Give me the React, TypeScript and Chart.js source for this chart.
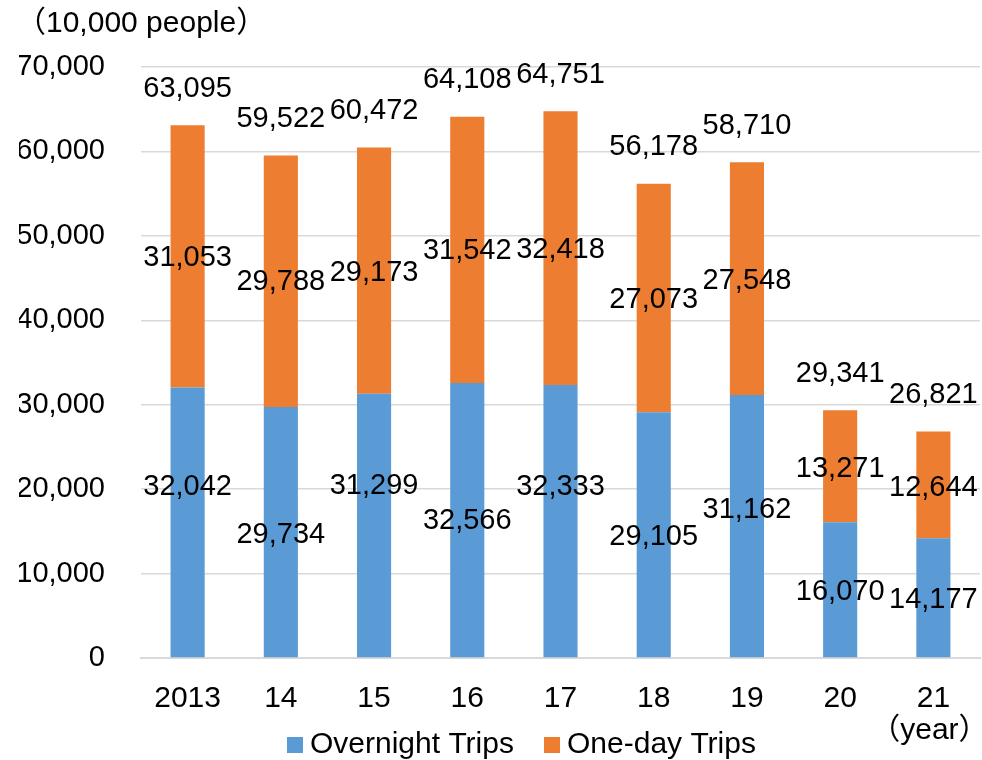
import React, { useEffect, useRef } from "react";
import { Chart, registerables } from "chart.js";

Chart.register(...registerables);

// ---- data ----
const years = ["2013", "14", "15", "16", "17", "18", "19", "20", "21"];
const overnightTrips = [32042, 29734, 31299, 32566, 32333, 29105, 31162, 16070, 14177];
const oneDayTrips = [31053, 29788, 29173, 31542, 32418, 27073, 27548, 13271, 12644];
const totalTrips = [63095, 59522, 60472, 64108, 64751, 56178, 58710, 29341, 26821];
const yMin = 0;
const yMax = 70000;
const yStep = 10000;
const seriesNames = ["Overnight Trips", "One-day Trips"];
const unitLabel = "（10,000 people）";
const yearLabel = "（year）";

// ---- styling / layout (not data) ----
const seriesColors = ["#5B9BD5", "#ED7D31"];
const overnightLabelShift = [-37, 1, -41, -1, -36, 0, -18, 0, 0];
const oneDayLabelShift = [0, -1, 0, -1, 0, 0, 0, 1, 1];
const FONT_FAMILY = "'Liberation Sans', Arial, 'Noto Sans CJK JP', sans-serif";
const FONT_SIZE = 29;
const FONT = `${FONT_SIZE}px ${FONT_FAMILY}`;

const fmt = (v: number) => v.toLocaleString("en-US");

const labelPlugin = {
  id: "labelPlugin",
  afterDatasetsDraw(chart: any) {
    const ctx = chart.ctx;
    const yScale = chart.scales.y;
    ctx.save();
    ctx.font = FONT;
    ctx.fillStyle = "#000";
    ctx.textAlign = "center";
    ctx.textBaseline = "middle";
    const m0 = chart.getDatasetMeta(0);
    const m1 = chart.getDatasetMeta(1);
    m0.data.forEach((bar: any, i: number) => {
      const p = bar.getProps(["x", "y", "base"], true);
      ctx.fillText(fmt(overnightTrips[i]), p.x, (p.y + p.base) / 2 + 2 + overnightLabelShift[i]);
    });
    m1.data.forEach((bar: any, i: number) => {
      const p = bar.getProps(["x", "y", "base"], true);
      ctx.fillText(fmt(oneDayTrips[i]), p.x, (p.y + p.base) / 2 + 2 + oneDayLabelShift[i]);
      const top = yScale.getPixelForValue(totalTrips[i]);
      ctx.fillText(fmt(totalTrips[i]), p.x, top - 36.5);
    });
    ctx.restore();
  },
  afterDraw(chart: any) {
    const ctx = chart.ctx;
    ctx.save();
    ctx.fillStyle = "#000";
    ctx.textBaseline = "middle";
    // unit label
    ctx.font = `30px ${FONT_FAMILY}`;
    ctx.textAlign = "left";
    ctx.fillText(unitLabel, 16, 24);
    // year label
    ctx.textAlign = "center";
    const xs = chart.scales.x;
    ctx.fillText(yearLabel, xs.getPixelForValue(years.length - 1) - 4, 731);
    // legend
    ctx.textAlign = "left";
    const items = [
      { name: seriesNames[0], color: seriesColors[0], x: 287 },
      { name: seriesNames[1], color: seriesColors[1], x: 544 },
    ];
    items.forEach((it) => {
      ctx.fillStyle = it.color;
      ctx.fillRect(it.x, 737, 16, 16);
      ctx.fillStyle = "#000";
      ctx.fillText(it.name, it.x + 23, 745);
    });
    ctx.restore();
  },
};

export default function App() {
  const ref = useRef<HTMLCanvasElement | null>(null);
  useEffect(() => {
    if (!ref.current) return;
    const chart = new Chart(ref.current, {
      type: "bar",
      data: {
        labels: years,
        datasets: [
          {
            label: seriesNames[0],
            data: overnightTrips,
            backgroundColor: seriesColors[0],
            barPercentage: 0.366,
            categoryPercentage: 1,
          },
          {
            label: seriesNames[1],
            data: oneDayTrips,
            backgroundColor: seriesColors[1],
            barPercentage: 0.366,
            categoryPercentage: 1,
          },
        ],
      },
      options: {
        animation: false,
        responsive: false,
        layout: { padding: { left: 19, right: 2, top: 67, bottom: 47 } },
        plugins: {
          legend: { display: false },
          tooltip: { enabled: false },
          title: { display: false },
        },
        scales: {
          x: {
            stacked: true,
            grid: { display: false, drawTicks: false },
            border: { display: true, color: "#d9d9d9", width: 2 },
            ticks: {
              color: "#000",
              font: { family: FONT_FAMILY, size: 30 },
              padding: 23,
              maxRotation: 0,
              autoSkip: false,
            },
            afterFit: (s: any) => {
              s.height = 55;
            },
          },
          y: {
            stacked: true,
            min: yMin,
            max: yMax,
            grid: { color: "#d9d9d9", lineWidth: 1.5, drawTicks: false },
            border: { display: false },
            ticks: {
              stepSize: yStep,
              color: "#000",
              font: { family: FONT_FAMILY, size: FONT_SIZE },
              padding: 36,
              callback: (v: any) => fmt(Number(v)),
            },
            afterFit: (s: any) => {
              s.width = 122;
            },
          },
        },
      },
      plugins: [labelPlugin],
    });
    return () => chart.destroy();
  }, []);
  return (
    <div style={{ position: "absolute", left: 0, top: 0, width: 982, height: 760, background: "#fff" }}>
      <canvas ref={ref} width={982} height={760} style={{ width: 982, height: 760, display: "block" }} />
    </div>
  );
}
